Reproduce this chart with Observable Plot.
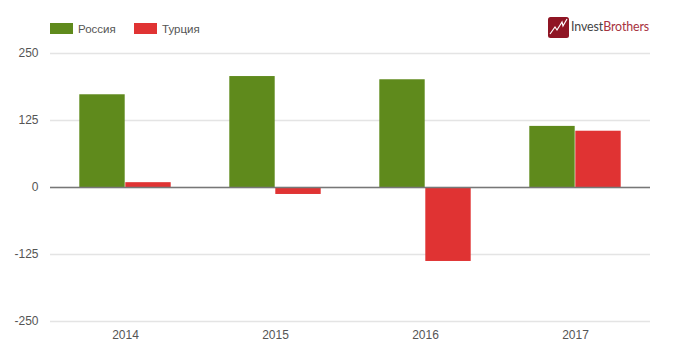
<!DOCTYPE html>
<html><head><meta charset="utf-8">
<script src="https://cdn.jsdelivr.net/npm/d3@7"></script>
<script src="https://cdn.jsdelivr.net/npm/@observablehq/plot@0.6"></script>
<style>
html,body{margin:0;padding:0;background:#fff;width:680px;height:361px;overflow:hidden}
#head{position:relative;height:40px;font:11.5px "Liberation Sans",Arial,sans-serif;color:#555}
.sw{position:absolute;top:23px;width:23px;height:11px}
.lb{position:absolute;top:21.5px;line-height:14px}
#logo{position:absolute;left:548px;top:17px}
#brand{position:absolute;left:571px;top:19px;font:12.4px/16px Lato,"Liberation Sans",sans-serif;color:#444;white-space:nowrap;letter-spacing:-.1px}
#brand span{color:#a8323e}
svg{display:block}
</style></head><body>
<div id="head"></div>
<div id="chart"></div>
<script>
const years = ["2014","2015","2016","2017"];
const seriesNames = ["Россия","Турция"];
const russia = [173,207,201,114];
const turkey = [9,-13,-138,105];
const colors = ["#5f8a1c","#e03333"];
const yTicks = [-250,-125,0,125,250];

const rows = years.flatMap((year,i)=>[
  {year,series:seriesNames[0],value:russia[i]},
  {year,series:seriesNames[1],value:turkey[i]}
]);

const head = document.getElementById("head");
[[50,78],[134,162]].forEach(([a,b],i)=>{
  head.insertAdjacentHTML("beforeend",
    `<div class="sw" style="left:${a}px;background:${colors[i]}"></div><div class="lb" style="left:${b}px">${seriesNames[i]}</div>`);
});
head.insertAdjacentHTML("beforeend",
  `<svg id="logo" width="21" height="21" viewBox="0 0 21 21"><rect width="21" height="21" rx="2.5" fill="#8f1524"/><path d="M2 17L7 10L9 13L14 5L15 9L19 2" fill="none" stroke="#fff" stroke-width="1.2"/></svg><div id="brand">Invest<span>Brothers</span></div>`);

const plot = Plot.plot({
  width:680, height:321,
  marginLeft:50, marginRight:30, marginTop:13, marginBottom:40,
  style:{fontFamily:'"Liberation Sans",Arial,sans-serif',fontSize:"12px",color:"#555",background:"#fff"},
  fx:{domain:years,paddingInner:0,paddingOuter:0,label:null,axis:null},
  x:{domain:seriesNames,paddingInner:0,paddingOuter:0.62,axis:null,label:null},
  y:{domain:[-250,250],label:null,axis:null},
  color:{domain:seriesNames,range:colors},
  marks:[
    Plot.gridY(yTicks,{stroke:"#e4e4e4",strokeOpacity:1,strokeWidth:1.5}),
    Plot.axisY(yTicks,{tickSize:0,tickPadding:12,label:null,fill:"#555",fontSize:12,tickFormat:d=>String(d)}),
    Plot.axisFx({anchor:"bottom",tickSize:0,tickPadding:9,label:null,fill:"#555",fontSize:12}),
    Plot.barY(rows,{fx:"year",x:"series",y:"value",fill:"series",insetLeft:0.3,insetRight:0.3}),
    Plot.ruleY([0],{stroke:"#777",strokeWidth:1.5})
  ]
});
document.getElementById("chart").appendChild(plot);
</script>
</body></html>
